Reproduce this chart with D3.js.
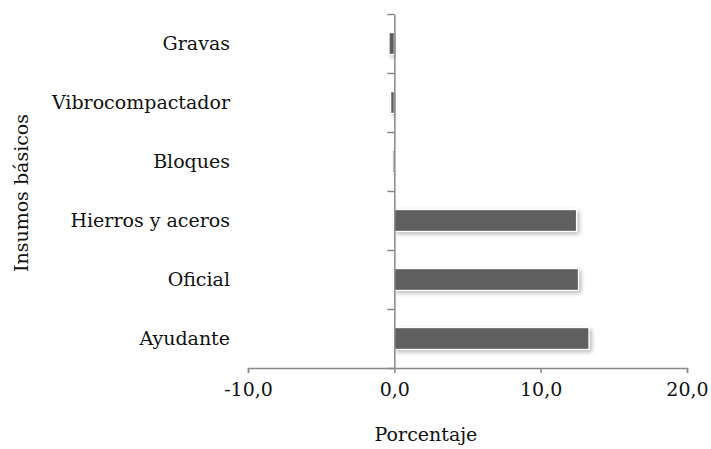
<!DOCTYPE html>
<html>
<head>
<meta charset="utf-8">
<script src="https://cdn.jsdelivr.net/npm/d3@7"></script>
<style>
  body { margin: 0; background: #fff; }
  svg text { font-family: "DejaVu Serif", serif; fill: #111; }
</style>
</head>
<body>
<div id="chart"></div>
<script>
// Data
const categories = ['Gravas', 'Vibrocompactador', 'Bloques', 'Hierros y aceros', 'Oficial', 'Ayudante'];
const values = [-0.36, -0.25, -0.1, 12.45, 12.58, 13.3];
const xTicks = [-10, 0, 10, 20];

const W = 711, H = 449;
const margin = { top: 14, right: 24, bottom: 81, left: 248 };
const width = W - margin.left - margin.right;
const height = H - margin.top - margin.bottom;
const fontSize = 19;

const svg = d3.select('#chart').append('svg')
    .attr('width', W).attr('height', H);

const defs = svg.append('defs');
defs.append('filter').attr('id', 'shadow')
    .attr('x', '-20%').attr('y', '-40%').attr('width', '150%').attr('height', '200%')
    .append('feDropShadow')
    .attr('dx', 2).attr('dy', 2).attr('stdDeviation', 2.2)
    .attr('flood-color', '#000').attr('flood-opacity', 0.3);

const g = svg.append('g').attr('transform', `translate(${margin.left},${margin.top})`);

const xScale = d3.scaleLinear().domain([-10, 20]).range([0, width]);
const yScale = d3.scaleBand().domain(categories).range([0, height]).paddingInner(0.63).paddingOuter(0.315);
const yEdges = d3.scaleLinear().domain([0, categories.length]).range([0, height]);

// Bars
g.selectAll('.bar').data(categories).enter().append('rect')
    .attr('class', 'bar')
    .attr('x', (d, i) => xScale(Math.min(0, values[i])))
    .attr('y', d => yScale(d))
    .attr('width', (d, i) => Math.abs(xScale(values[i]) - xScale(0)))
    .attr('height', yScale.bandwidth())
    .attr('fill', '#5f5f5f')
    .attr('stroke', '#fff')
    .attr('stroke-width', 1.2)
    .style('filter', 'url(#shadow)');

// X axis
const xAxis = g.append('g')
    .attr('transform', `translate(0,${height})`)
    .call(d3.axisBottom(xScale).tickValues(xTicks).tickSize(5).tickPadding(10)
        .tickFormat(d => d3.format('.1f')(d).replace('.', ',').replace('−', '-')));
xAxis.select('.domain').attr('stroke', '#888').attr('stroke-width', 1.5);
xAxis.selectAll('.tick line').attr('stroke', '#888').attr('stroke-width', 1.5);
xAxis.selectAll('.tick text').attr('font-size', fontSize).attr('font-family', '"DejaVu Serif", serif').attr('fill', '#111');

// Y axis at zero
const yAxis = g.append('g')
    .attr('transform', `translate(${xScale(0)},0)`)
    .call(d3.axisLeft(yEdges).ticks(categories.length).tickSize(7).tickSizeOuter(0).tickFormat(''));
yAxis.select('.domain').attr('stroke', '#888').attr('stroke-width', 1.5);
yAxis.selectAll('.tick line').attr('stroke', '#888').attr('stroke-width', 1.5);

// Category labels
g.selectAll('.cat').data(categories).enter().append('text')
    .attr('class', 'cat')
    .attr('x', -18)
    .attr('y', d => yScale(d) + yScale.bandwidth() / 2)
    .attr('dy', '0.35em')
    .attr('text-anchor', 'end')
    .attr('font-size', fontSize)
    .text(d => d);

// Axis titles
svg.append('text')
    .attr('x', 426).attr('y', 441)
    .attr('text-anchor', 'middle')
    .attr('font-size', fontSize)
    .text('Porcentaje');

svg.append('text')
    .attr('transform', `translate(28,193) rotate(-90)`)
    .attr('text-anchor', 'middle')
    .attr('font-size', fontSize)
    .text('Insumos básicos');
</script>
</body>
</html>
